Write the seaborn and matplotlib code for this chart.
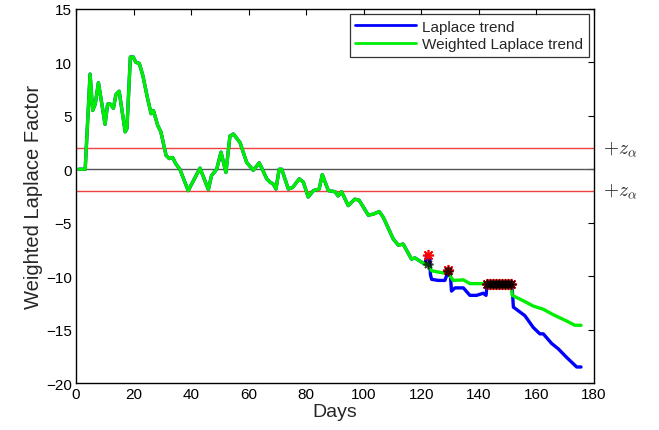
import numpy as np
import pandas as pd
import matplotlib
matplotlib.use("Agg")
import matplotlib.pyplot as plt
import seaborn as sns

# ---- data ----
common_days = [1, 3.2, 4.9, 5.8, 6.7, 7.8, 8.7, 10.1, 11, 11.9, 13, 13.9, 15, 17.1, 17.7,
               18.9, 19.9, 20.8, 22, 23.2, 24.9, 26.1, 26.9, 28.4, 29.5, 31.3, 32.4, 33.6,
               34.7, 36.1, 39, 43.1, 46, 47.1, 48.9, 50.4, 52.1, 53.5, 54.7, 57, 59.3, 61.6,
               63.7, 66.3, 67.4, 68.6, 69.5, 70.6, 71.5, 73.8, 75.3, 77.6, 79, 80.7, 82.5,
               84.5, 85.6, 87.7, 90, 91.1, 92.3, 94.6, 96.9, 98.4, 101.6, 103.3, 105.4,
               106.8, 110.2, 112, 113.7, 116.6, 117.8, 121.3]
common_vals = [0, 0, 8.9, 5.5, 6.1, 8.1, 6.6, 4.2, 6.1, 6.1, 5.7, 7.0, 7.3, 3.5, 3.8,
               10.5, 10.5, 10.0, 9.9, 8.8, 6.6, 5.2, 5.5, 4.1, 3.5, 1.3, 1.0, 1.1,
               0.5, 0.0, -2.0, 0.1, -1.9, -0.6, 0.0, 1.6, -0.3, 3.1, 3.3, 2.5, 0.65, -0.1,
               0.6, -0.9, -1.2, -1.4, -1.85, 0.0, 0.0, -1.85, -1.7, -0.9, -1.2, -2.6, -2.0,
               -1.85, -0.5, -2.0, -2.1, -2.5, -2.1, -3.4, -2.8, -2.9, -4.3, -4.2, -3.96,
               -4.5, -6.5, -7.1, -7.0, -8.4, -8.3, -8.9]

weighted_tail_days = [122.4, 123.6, 127.6, 129.4, 129.9, 131.1, 134.6, 136.9, 141.5, 142.5,
                      151.2, 151.6, 155.4, 158.9, 162.4, 165.8, 170.5, 173.4, 175.5]
weighted_tail_vals = [-8.9, -9.5, -9.7, -9.5, -9.95, -10.4, -10.35, -10.7, -10.7, -10.7,
                      -10.7, -11.8, -12.3, -12.8, -13.1, -13.6, -14.2, -14.6, -14.6]

laplace_tail_days = [121.9, 122.8, 123.2, 123.6, 125.9, 128.2, 128.8, 129.4, 130.0, 130.5,
                     131.7, 134.6, 136.9, 139.2, 141.5, 142.5, 142.9, 151.2, 151.6, 152,
                     156, 158.9, 161.2, 162.4, 165.3, 167.6, 170.5, 174, 175.5]
laplace_tail_vals = [-8.0, -8.0, -9.9, -10.3, -10.4, -10.4, -9.95, -9.4, -9.5, -11.4,
                     -11.1, -11.1, -11.8, -11.8, -11.6, -11.8, -10.7, -10.7, -11.2, -12.9,
                     -13.7, -14.8, -15.4, -15.4, -16.3, -16.8, -17.6, -18.5, -18.5]

red_star_days = [122.4, 129.4, 143, 144, 145, 146, 147, 148, 149, 150, 151]
red_star_vals = [-8.0, -9.4, -10.7, -10.7, -10.7, -10.7, -10.7, -10.7, -10.7, -10.7, -10.7]
black_star_days = [122.4, 129.4, 143, 144, 145, 146, 147, 148, 149, 150, 151]
black_star_vals = [-8.9, -9.55, -10.7, -10.7, -10.7, -10.7, -10.7, -10.7, -10.7, -10.7, -10.7]

threshold = 2.0
x_ticks = [0, 20, 40, 60, 80, 100, 120, 140, 160, 180]
y_ticks = [-20, -15, -10, -5, 0, 5, 10, 15]

# ---- style ----
sns.set_style("white")
plt.rcParams['font.family'] = ['Liberation Sans', 'DejaVu Sans']
plt.rcParams['mathtext.fontset'] = 'cm'

laplace = pd.DataFrame({"day": common_days + laplace_tail_days,
                        "value": common_vals + laplace_tail_vals})
weighted = pd.DataFrame({"day": common_days + weighted_tail_days,
                         "value": common_vals + weighted_tail_vals})

fig = plt.figure(figsize=(6.59, 4.31), dpi=100)
ax = fig.add_axes([0.1153, 0.109, 0.786, 0.868])

ax.axhline(threshold, color='#f04040', lw=1.0, zorder=1)
ax.axhline(-threshold, color='#f04040', lw=1.0, zorder=1)
ax.axhline(0, color='#555555', lw=1.0, zorder=1)

sns.lineplot(data=laplace, x="day", y="value", color='#0000ff', lw=2.4,
             sort=False, estimator=None, label="Laplace trend", ax=ax, zorder=3)
sns.lineplot(data=weighted, x="day", y="value", color='#00ee00', lw=2.4,
             sort=False, estimator=None, label="Weighted Laplace trend", ax=ax, zorder=4)

ax.plot(red_star_days, red_star_vals, ls='none', marker=(8, 2, 0), ms=8, mew=1.2,
        color='#ff0000', zorder=5)
ax.plot(black_star_days, black_star_vals, ls='none', marker=(8, 2, 0), ms=7, mew=1.2,
        color='#000000', alpha=0.75, zorder=6)

ax.set_xlim(0, 180)
ax.set_ylim(-20, 15)
ax.set_xticks(x_ticks)
ax.set_yticks(y_ticks)
ax.tick_params(direction='in', top=True, right=True, length=4, width=0.8,
               labelsize=11, colors='black', pad=3)
for s in ax.spines.values():
    s.set_color('black')
    s.set_linewidth(1.0)

ax.set_xlabel("Days", fontsize=14, labelpad=1)
ax.set_ylabel("Weighted Laplace Factor", fontsize=14.5, labelpad=2)

ax.text(183.3, threshold, r"$+z_{\alpha}$", fontsize=14, va='center', ha='left', clip_on=False)
ax.text(183.3, -threshold, r"$+z_{\alpha}$", fontsize=14, va='center', ha='left', clip_on=False)

leg = ax.legend(loc='upper right', fontsize=11, frameon=True, fancybox=False,
                edgecolor='black', borderaxespad=0.35, handlelength=4.0,
                handletextpad=0.4, borderpad=0.35, labelspacing=0.25)
leg.get_frame().set_linewidth(0.9)
for l in leg.get_lines():
    l.set_linewidth(2.0)

fig.savefig("out.png", dpi=100)
